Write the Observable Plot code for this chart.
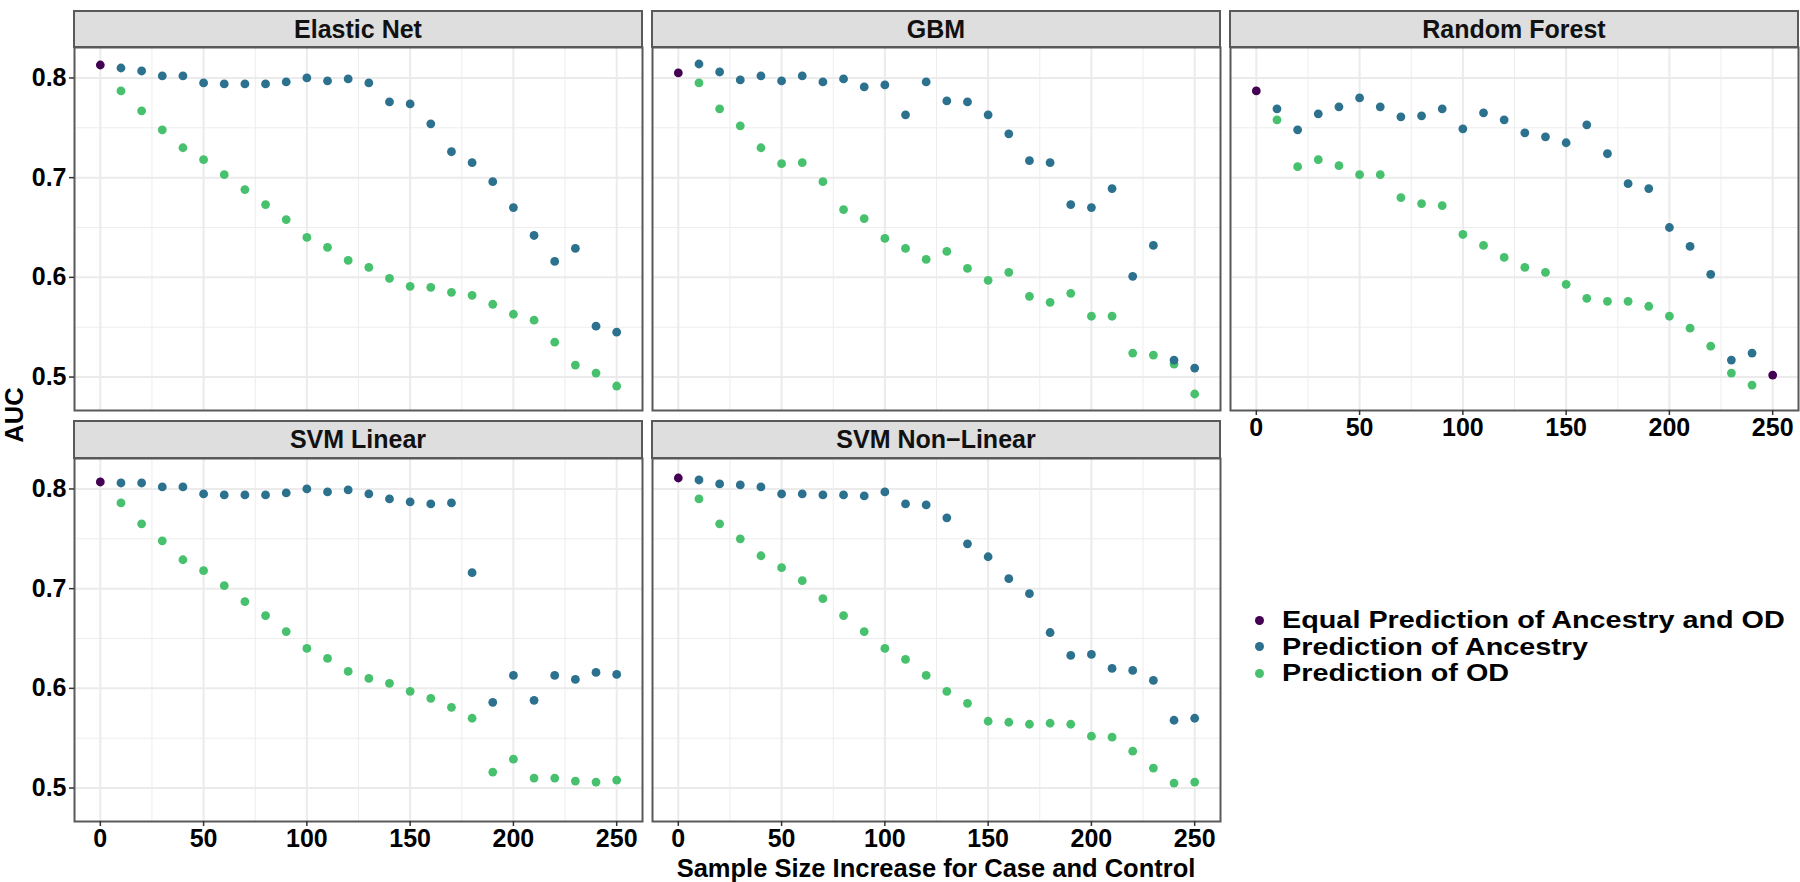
<!DOCTYPE html>
<html>
<head>
<meta charset="utf-8">
<script src="https://cdn.jsdelivr.net/npm/d3@7"></script>
<script src="https://cdn.jsdelivr.net/npm/@observablehq/plot@0.6"></script>
<style>
  html, body { margin: 0; padding: 0; background: #fff; }
  #chart { position: relative; width: 1800px; height: 882px; overflow: hidden;
           font-family: "Liberation Sans", Arial, Helvetica, sans-serif; font-weight: bold; color: #000; }
  .panel { position: absolute; }
  .strip { position: absolute; box-sizing: border-box; background: #dedede; border: 2px solid #595959;
           text-align: center; font-size: 25px; color: #111; }
  .title { position: absolute; font-size: 25.5px; line-height: 26px; white-space: nowrap; }
  .legend-row { position: absolute; font-size: 23.5px; line-height: 26px; white-space: nowrap; display: flex; align-items: center; }
  .legend-dot { display: inline-block; width: 9px; height: 9px; border-radius: 50%; margin-right: 18px; flex: none; }
  .legend-text { display: inline-block; transform: scaleX(1.225); transform-origin: left center; }
</style>
</head>
<body>
<div id="chart"></div>
<script>
// ---------------- data ----------------
const sampleSize = [0, 10, 20, 30, 40, 50, 60, 70, 80, 90, 100, 110, 120, 130, 140, 150, 160, 170, 180, 190, 200, 210, 220, 230, 240, 250];
const models = ["Elastic Net", "GBM", "Random Forest", "SVM Linear", "SVM Non\u2212Linear"];
const categories = ["Equal Prediction of Ancestry and OD", "Prediction of Ancestry", "Prediction of OD"];
const categoryColors = ["#440154", "#2C718E", "#48C16E"];
const xTickValues = [0, 50, 100, 150, 200, 250];
const xMinorValues = [25, 75, 125, 175, 225];
const yTickValues = [0.5, 0.6, 0.7, 0.8];
const yMinorValues = [0.55, 0.65, 0.75];
const xLabel = "Sample Size Increase for Case and Control";
const yLabel = "AUC";

const elasticNetAncestry = [null, 0.810, 0.807, 0.802, 0.802, 0.795, 0.794, 0.794, 0.794, 0.796, 0.800, 0.797, 0.799, 0.795, 0.776, 0.774, 0.754, 0.726, 0.715, 0.696, 0.670, 0.642, 0.616, 0.629, 0.551, 0.545];
const elasticNetOD       = [null, 0.787, 0.767, 0.748, 0.730, 0.718, 0.703, 0.688, 0.673, 0.658, 0.640, 0.630, 0.617, 0.610, 0.599, 0.591, 0.590, 0.585, 0.582, 0.573, 0.563, 0.557, 0.535, 0.512, 0.504, 0.491];
const elasticNetEqualAt  = [0];
const elasticNetEqual    = [0.813];

const gbmAncestry = [null, 0.814, 0.806, 0.798, 0.802, 0.797, 0.802, 0.796, 0.799, 0.791, 0.793, 0.763, 0.796, 0.777, 0.776, 0.763, 0.744, 0.717, 0.715, 0.673, 0.670, 0.689, 0.601, 0.632, 0.517, 0.509];
const gbmOD       = [null, 0.795, 0.769, 0.752, 0.730, 0.714, 0.715, 0.696, 0.668, 0.659, 0.639, 0.629, 0.618, 0.626, 0.609, 0.597, 0.605, 0.581, 0.575, 0.584, 0.561, 0.561, 0.524, 0.522, 0.513, 0.483];
const gbmEqualAt  = [0];
const gbmEqual    = [0.805];

const randomForestAncestry = [null, 0.769, 0.748, 0.764, 0.771, 0.780, 0.771, 0.761, 0.762, 0.769, 0.749, 0.765, 0.758, 0.745, 0.741, 0.735, 0.753, 0.724, 0.694, 0.689, 0.650, 0.631, 0.603, 0.517, 0.524, null];
const randomForestOD       = [null, 0.758, 0.711, 0.718, 0.712, 0.703, 0.703, 0.680, 0.674, 0.672, 0.643, 0.632, 0.620, 0.610, 0.605, 0.593, 0.579, 0.576, 0.576, 0.571, 0.561, 0.549, 0.531, 0.504, 0.492, null];
const randomForestEqualAt  = [0, 250];
const randomForestEqual    = [0.787, 0.502];

const svmLinearAncestry = [null, 0.806, 0.806, 0.802, 0.802, 0.795, 0.794, 0.794, 0.794, 0.796, 0.800, 0.797, 0.799, 0.795, 0.790, 0.787, 0.785, 0.786, 0.716, 0.586, 0.613, 0.588, 0.613, 0.609, 0.616, 0.614];
const svmLinearOD       = [null, 0.786, 0.765, 0.748, 0.729, 0.718, 0.703, 0.687, 0.673, 0.657, 0.640, 0.630, 0.617, 0.610, 0.605, 0.597, 0.590, 0.581, 0.570, 0.516, 0.529, 0.510, 0.510, 0.507, 0.506, 0.508];
const svmLinearEqualAt  = [0];
const svmLinearEqual    = [0.807];

const svmNonLinearAncestry = [null, 0.809, 0.805, 0.804, 0.802, 0.795, 0.795, 0.794, 0.794, 0.793, 0.797, 0.785, 0.784, 0.771, 0.745, 0.732, 0.710, 0.695, 0.656, 0.633, 0.634, 0.620, 0.618, 0.608, 0.568, 0.570];
const svmNonLinearOD       = [null, 0.790, 0.765, 0.750, 0.733, 0.721, 0.708, 0.690, 0.673, 0.657, 0.640, 0.629, 0.613, 0.597, 0.585, 0.567, 0.566, 0.564, 0.565, 0.564, 0.552, 0.551, 0.537, 0.520, 0.505, 0.506];
const svmNonLinearEqualAt  = [0];
const svmNonLinearEqual    = [0.811];

// ---------------- build tables ----------------
const series = [
  {model: models[0], anc: elasticNetAncestry,   od: elasticNetOD,   eqAt: elasticNetEqualAt,   eq: elasticNetEqual},
  {model: models[1], anc: gbmAncestry,          od: gbmOD,          eqAt: gbmEqualAt,          eq: gbmEqual},
  {model: models[2], anc: randomForestAncestry, od: randomForestOD, eqAt: randomForestEqualAt, eq: randomForestEqual},
  {model: models[3], anc: svmLinearAncestry,    od: svmLinearOD,    eqAt: svmLinearEqualAt,    eq: svmLinearEqual},
  {model: models[4], anc: svmNonLinearAncestry, od: svmNonLinearOD, eqAt: svmNonLinearEqualAt, eq: svmNonLinearEqual}
];
function rowsFor(s) {
  const rows = [];
  sampleSize.forEach((n, i) => { if (s.od[i] != null) rows.push({size: n, auc: s.od[i], type: categories[2]}); });
  sampleSize.forEach((n, i) => { if (s.anc[i] != null) rows.push({size: n, auc: s.anc[i], type: categories[1]}); });
  s.eqAt.forEach((n, i) => rows.push({size: n, auc: s.eq[i], type: categories[0]}));
  return rows;
}
const allRows = series.flatMap(rowsFor);

// ggplot-like 5% expansion
const xExt = d3.extent(sampleSize), yExt = d3.extent(allRows, d => d.auc);
const xPad = (xExt[1] - xExt[0]) * 0.05, yPad = (yExt[1] - yExt[0]) * 0.05;
const xDomain = [xExt[0] - xPad, xExt[1] + xPad];
const yDomain = [yExt[0] - yPad, yExt[1] + yPad];

// ---------------- layout ----------------
const W = 568, H = 363, stripH = 37.5, pad = 2;
const colLeft = [74, 652, 1230];
const rowTop = [47, 457.5];
const chart = document.getElementById("chart");

series.forEach((s, k) => {
  const col = k % 3, row = Math.floor(k / 3);
  const showY = col === 0;
  const showX = row === 1 || k === 2;
  const mL = showY ? 74 : pad, mB = showX ? 44 : pad;
  const marks = [
    Plot.gridX(xMinorValues, {stroke: "#ededed", strokeOpacity: 1, strokeWidth: 1}),
    Plot.gridY(yMinorValues, {stroke: "#ededed", strokeOpacity: 1, strokeWidth: 1}),
    Plot.gridX(xTickValues, {stroke: "#ebebeb", strokeOpacity: 1, strokeWidth: 2}),
    Plot.gridY(yTickValues, {stroke: "#ebebeb", strokeOpacity: 1, strokeWidth: 2}),
    Plot.dot(rowsFor(s), {x: "size", y: "auc", fill: "type", r: 4.4}),
    Plot.frame({stroke: "#595959", strokeWidth: 2})
  ];
  if (showX) marks.push(Plot.axisX(xTickValues, {tickSize: 5, tickPadding: 3, stroke: "#333", strokeWidth: 1.5, fontSize: 25, label: null}));
  if (showY) marks.push(Plot.axisY(yTickValues, {tickSize: 5, tickPadding: 3, stroke: "#333", strokeWidth: 1.5, fontSize: 25, label: null, tickFormat: d3.format(".1f")}));
  const svg = Plot.plot({
    width: W + mL + pad, height: H + pad + mB,
    marginLeft: mL, marginRight: pad, marginTop: pad, marginBottom: mB,
    x: {domain: xDomain, label: null, axis: showX ? undefined : null},
    y: {domain: yDomain, label: null, axis: showY ? undefined : null},
    color: {domain: categories, range: categoryColors},
    style: {fontFamily: '"Liberation Sans", Arial, sans-serif', fontWeight: "bold", fontSize: "25px", color: "#000", background: "transparent", overflow: "visible"},
    marks
  });
  const wrap = document.createElement("div");
  wrap.className = "panel";
  wrap.style.left = (colLeft[col] - mL) + "px";
  wrap.style.top = (rowTop[row] - pad) + "px";
  wrap.appendChild(svg);
  chart.appendChild(wrap);

  const strip = document.createElement("div");
  strip.className = "strip";
  strip.style.left = (colLeft[col] - 1) + "px";
  strip.style.top = (rowTop[row] - stripH) + "px";
  strip.style.width = (W + 2) + "px";
  strip.style.height = (stripH + 1) + "px";
  strip.style.lineHeight = (stripH - 3) + "px";
  strip.textContent = s.model;
  chart.appendChild(strip);
});

// axis titles
const xt = document.createElement("div");
xt.className = "title";
xt.textContent = xLabel;
xt.style.left = "936px"; xt.style.top = "855px"; xt.style.transform = "translateX(-50%)";
chart.appendChild(xt);

const yt = document.createElement("div");
yt.className = "title";
yt.textContent = yLabel;
yt.style.left = "14px"; yt.style.top = "415px"; yt.style.transform = "translate(-50%,-50%) rotate(-90deg)";
chart.appendChild(yt);

// legend
categories.forEach((c, i) => {
  const r = document.createElement("div");
  r.className = "legend-row";
  r.style.left = "1255px";
  r.style.top = (607 + i * 26.5) + "px";
  const dot = document.createElement("span");
  dot.className = "legend-dot";
  dot.style.background = categoryColors[i];
  const label = document.createElement("span");
  label.className = "legend-text";
  label.textContent = c;
  r.appendChild(dot);
  r.appendChild(label);
  chart.appendChild(r);
});
</script>
</body>
</html>
